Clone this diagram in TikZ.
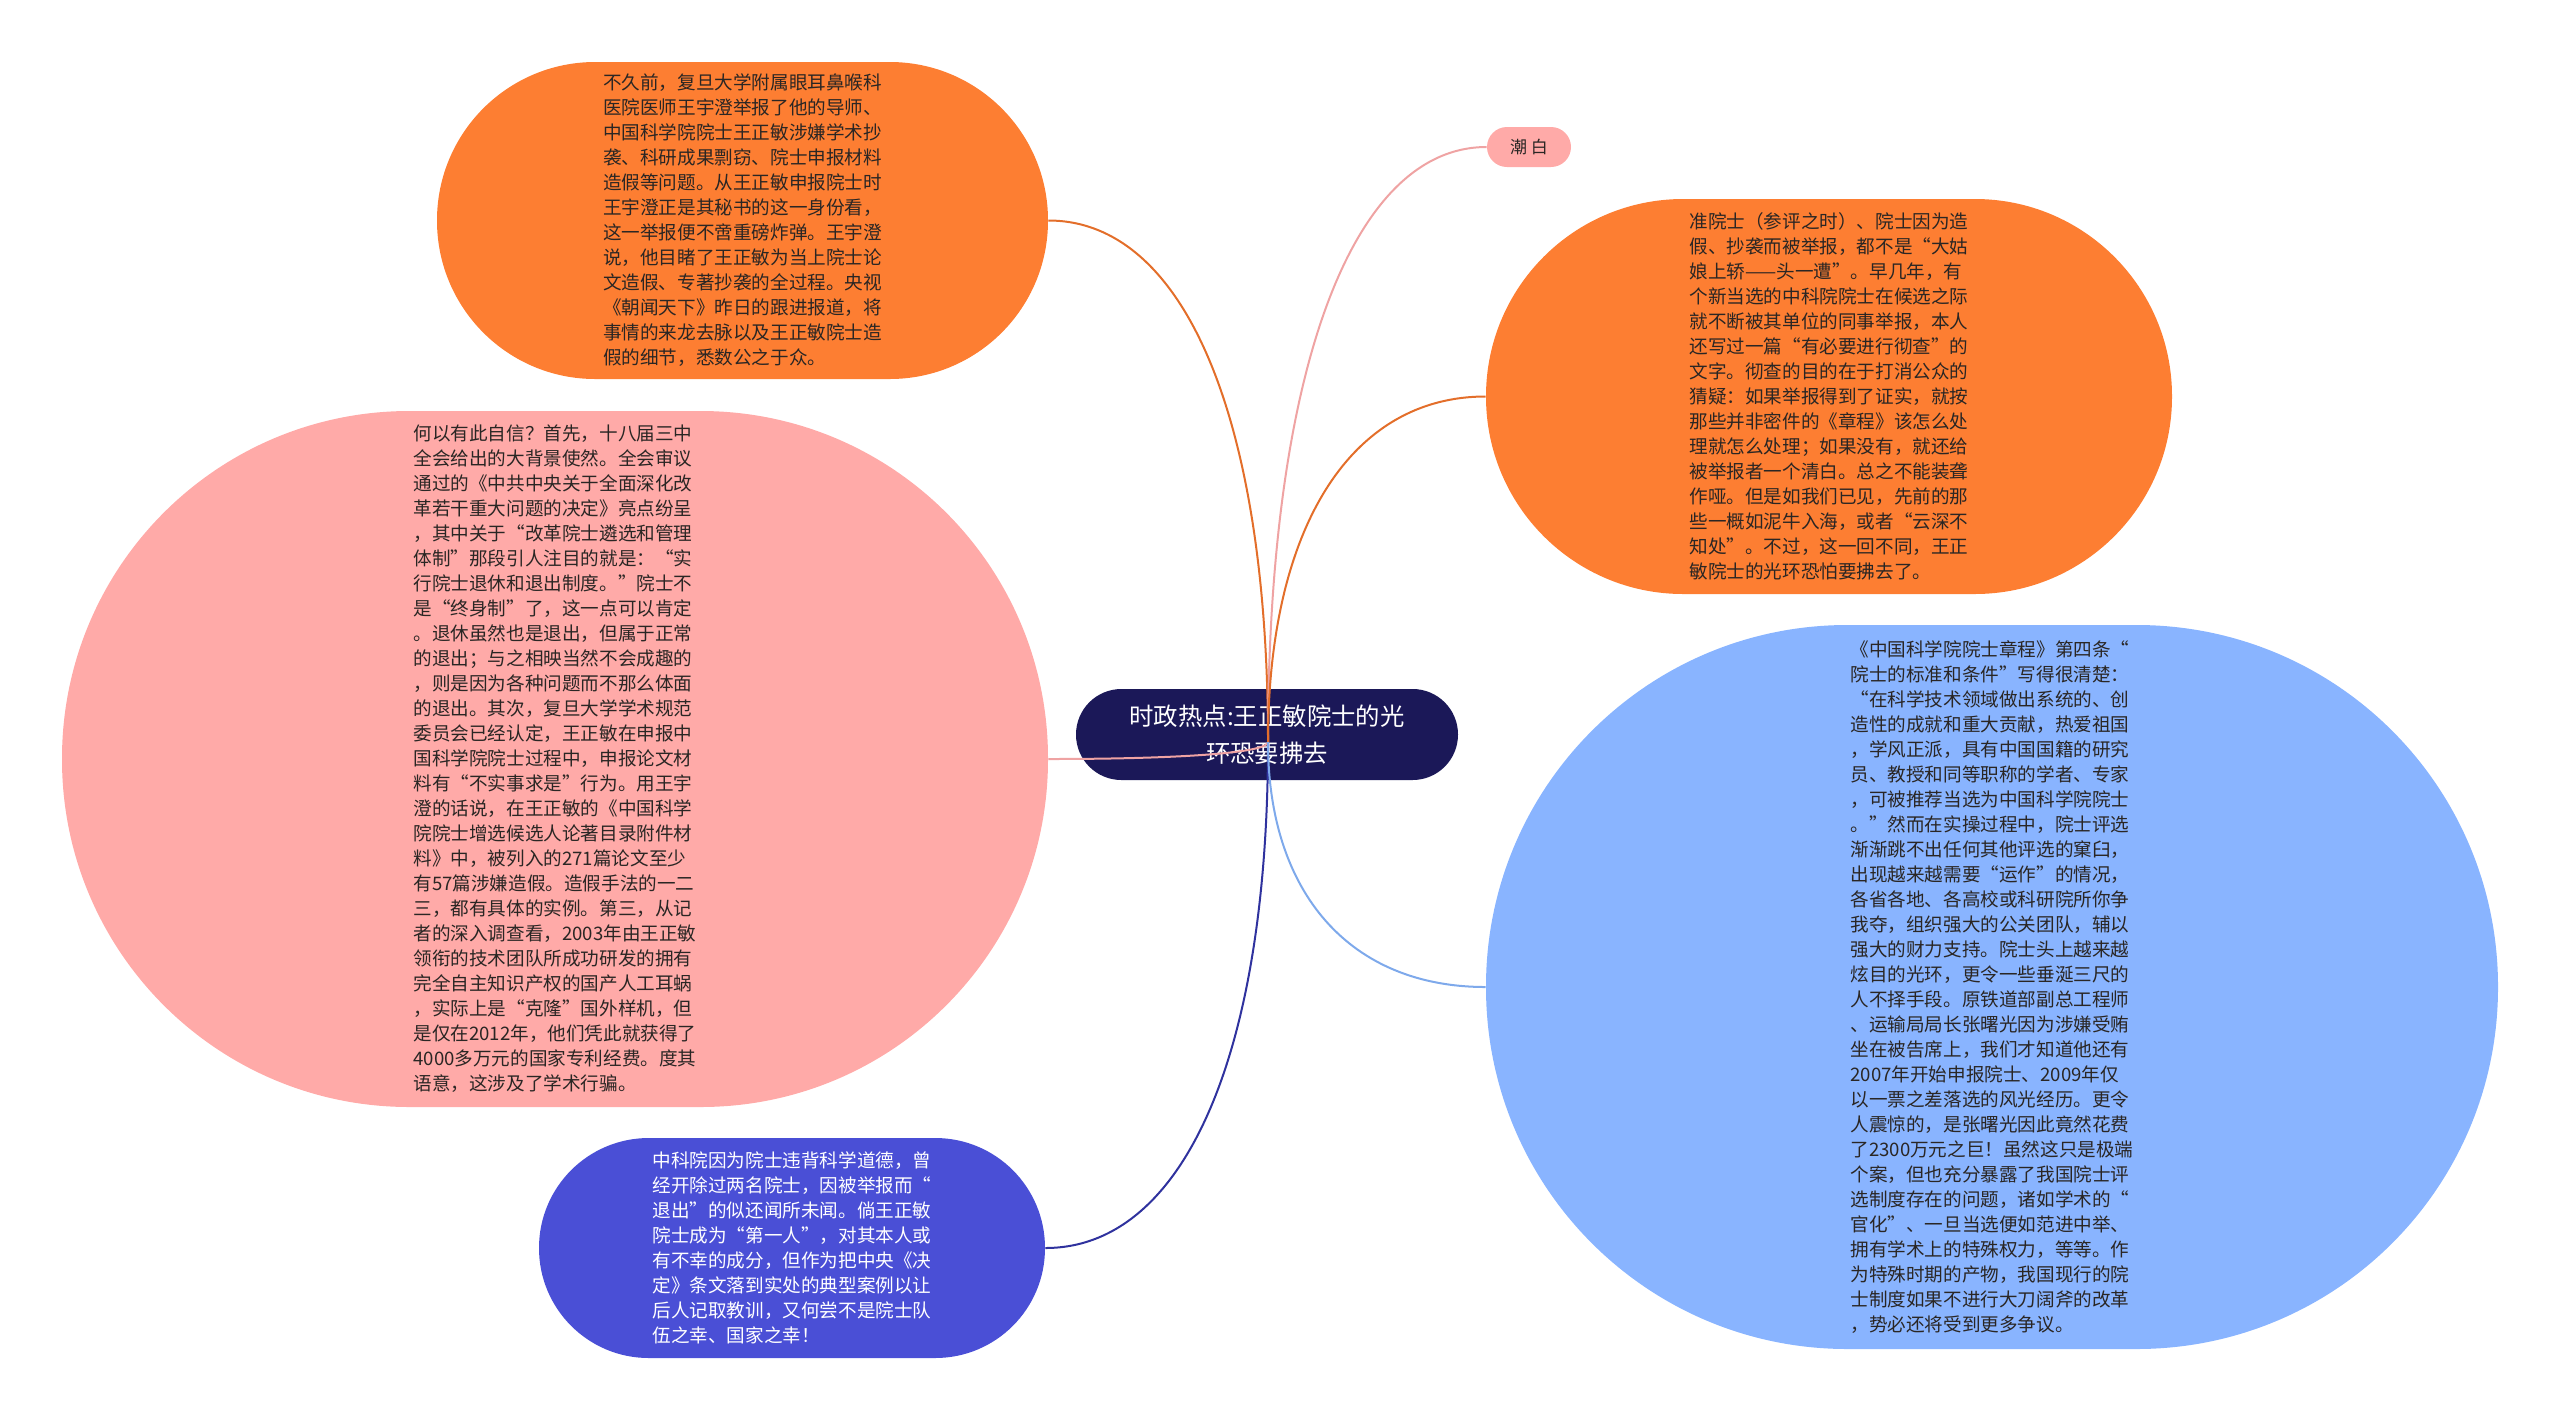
\documentclass[tikz,border=0pt]{standalone}
\usepackage{fontspec}
\setmainfont{Noto Sans CJK SC}
\usepackage{tikz}
\usetikzlibrary{calc}
\definecolor{hotorange}{HTML}{FD7E32}
\definecolor{rosepink}{HTML}{FFAAA8}
\definecolor{skyblue}{HTML}{89B4FF}
\definecolor{deepblue}{HTML}{4A4FD6}
\definecolor{navyroot}{HTML}{1B1858}
\definecolor{inkdark}{HTML}{2A2624}
\definecolor{orangeline}{HTML}{E36E2A}
\definecolor{pinkline}{HTML}{EFA3A3}
\definecolor{skyline}{HTML}{7EA9EB}
\definecolor{deepline}{HTML}{2F329E}

\begin{document}
\begin{tikzpicture}[x=0.5pt, y=-0.5pt,
    pill/.style 2 args={rectangle, inner sep=0pt, minimum width=#1,
                        minimum height=#2, rounded corners=0.499*#2},
    topic/.style={align=left, text=inkdark,
                  font={\fontsize{9.3pt}{12.5pt}\selectfont}},
    link/.style={line width=1pt}]
    \useasboundingbox (0,0) rectangle (2560,1420);

    % root
    \node[pill={191pt}{45.5pt}, fill=navyroot, text=white, align=center,
          font={\fontsize{12.2pt}{18.5pt}\selectfont}] (root) at (1267,734.5)
          {时政热点:王正敏院士的光\\环恐要拂去};

    % left side
    \node[topic, pill={305.5pt}{158.5pt}, fill=hotorange] (report) at (742.5,220.5)
          {不久前，复旦大学附属眼耳鼻喉科\\
           医院医师王宇澄举报了他的导师、\\
           中国科学院院士王正敏涉嫌学术抄\\
           袭、科研成果剽窃、院士申报材料\\
           造假等问题。从王正敏申报院士时\\
           王宇澄正是其秘书的这一身份看，\\
           这一举报便不啻重磅炸弹。王宇澄\\
           说，他目睹了王正敏为当上院士论\\
           文造假、专著抄袭的全过程。央视\\
           《朝闻天下》昨日的跟进报道，将\\
           事情的来龙去脉以及王正敏院士造\\
           假的细节，悉数公之于众。};
    \node[topic, pill={493pt}{348pt}, fill=rosepink] (confid) at (555,759)
          {何以有此自信？首先，十八届三中\\
           全会给出的大背景使然。全会审议\\
           通过的《中共中央关于全面深化改\\
           革若干重大问题的决定》亮点纷呈\\
           ，其中关于“改革院士遴选和管理\\
           体制”那段引人注目的就是：“实\\
           行院士退休和退出制度。”院士不\\
           是“终身制”了，这一点可以肯定\\
           。退休虽然也是退出，但属于正常\\
           的退出；与之相映当然不会成趣的\\
           ，则是因为各种问题而不那么体面\\
           的退出。其次，复旦大学学术规范\\
           委员会已经认定，王正敏在申报中\\
           国科学院院士过程中，申报论文材\\
           料有“不实事求是”行为。用王宇\\
           澄的话说，在王正敏的《中国科学\\
           院院士增选候选人论著目录附件材\\
           料》中，被列入的271篇论文至少\\
           有57篇涉嫌造假。造假手法的一二\\
           三，都有具体的实例。第三，从记\\
           者的深入调查看，2003年由王正敏\\
           领衔的技术团队所成功研发的拥有\\
           完全自主知识产权的国产人工耳蜗\\
           ，实际上是“克隆”国外样机，但\\
           是仅在2012年，他们凭此就获得了\\
           4000多万元的国家专利经费。度其\\
           语意，这涉及了学术行骗。};
    \node[topic, pill={253pt}{110pt}, fill=deepblue, text=white] (expel) at (792,1248)
          {中科院因为院士违背科学道德，曾\\
           经开除过两名院士，因被举报而“\\
           退出”的似还闻所未闻。倘王正敏\\
           院士成为“第一人”，对其本人或\\
           有不幸的成分，但作为把中央《决\\
           定》条文落到实处的典型案例以让\\
           后人记取教训，又何尝不是院士队\\
           伍之幸、国家之幸！};

    % right side
    \node[pill={42pt}{20pt}, fill=rosepink, text=inkdark,
          font={\fontsize{8.5pt}{10pt}\selectfont}] (author) at (1529,147) {潮 白};
    \node[topic, pill={343pt}{197.5pt}, fill=hotorange] (halo) at (1829,396.5)
          {准院士（参评之时）、院士因为造\\
           假、抄袭而被举报，都不是“大姑\\
           娘上轿——头一遭”。早几年，有\\
           个新当选的中科院院士在候选之际\\
           就不断被其单位的同事举报，本人\\
           还写过一篇“有必要进行彻查”的\\
           文字。彻查的目的在于打消公众的\\
           猜疑：如果举报得到了证实，就按\\
           那些并非密件的《章程》该怎么处\\
           理就怎么处理；如果没有，就还给\\
           被举报者一个清白。总之不能装聋\\
           作哑。但是如我们已见，先前的那\\
           些一概如泥牛入海，或者“云深不\\
           知处”。不过，这一回不同，王正\\
           敏院士的光环恐怕要拂去了。};
    \node[topic, pill={506pt}{362pt}, fill=skyblue] (charter) at (1992,987)
          {《中国科学院院士章程》第四条“\\
           院士的标准和条件”写得很清楚：\\
           “在科学技术领域做出系统的、创\\
           造性的成就和重大贡献，热爱祖国\\
           ，学风正派，具有中国国籍的研究\\
           员、教授和同等职称的学者、专家\\
           ，可被推荐当选为中国科学院院士\\
           。”然而在实操过程中，院士评选\\
           渐渐跳不出任何其他评选的窠臼，\\
           出现越来越需要“运作”的情况，\\
           各省各地、各高校或科研院所你争\\
           我夺，组织强大的公关团队，辅以\\
           强大的财力支持。院士头上越来越\\
           炫目的光环，更令一些垂涎三尺的\\
           人不择手段。原铁道部副总工程师\\
           、运输局局长张曙光因为涉嫌受贿\\
           坐在被告席上，我们才知道他还有\\
           2007年开始申报院士、2009年仅\\
           以一票之差落选的风光经历。更令\\
           人震惊的，是张曙光因此竟然花费\\
           了2300万元之巨！虽然这只是极端\\
           个案，但也充分暴露了我国院士评\\
           选制度存在的问题，诸如学术的“\\
           官化”、一旦当选便如范进中举、\\
           拥有学术上的特殊权力，等等。作\\
           为特殊时期的产物，我国现行的院\\
           士制度如果不进行大刀阔斧的改革\\
           ，势必还将受到更多争议。};

    % branches
    \coordinate (hub) at (1268,742);
    \draw[link, draw=orangeline] (hub) .. controls ($(hub)!0.62!(hub |- report.east)$)
          and ($(report.east)!0.62!(hub |- report.east)$) .. (report.east);
    \draw[link, draw=pinkline] (hub) .. controls ($(hub)!0.62!(hub |- confid.east)$)
          and ($(confid.east)!0.62!(hub |- confid.east)$) .. (confid.east);
    \draw[link, draw=deepline] (hub) .. controls ($(hub)!0.62!(hub |- expel.east)$)
          and ($(expel.east)!0.62!(hub |- expel.east)$) .. (expel.east);
    \draw[link, draw=pinkline] (hub) .. controls ($(hub)!0.62!(hub |- author.west)$)
          and ($(author.west)!0.62!(hub |- author.west)$) .. (author.west);
    \draw[link, draw=orangeline] (hub) .. controls ($(hub)!0.62!(hub |- halo.west)$)
          and ($(halo.west)!0.62!(hub |- halo.west)$) .. (halo.west);
    \draw[link, draw=skyline] (hub) .. controls ($(hub)!0.62!(hub |- charter.west)$)
          and ($(charter.west)!0.62!(hub |- charter.west)$) .. (charter.west);
\end{tikzpicture}
\end{document}
